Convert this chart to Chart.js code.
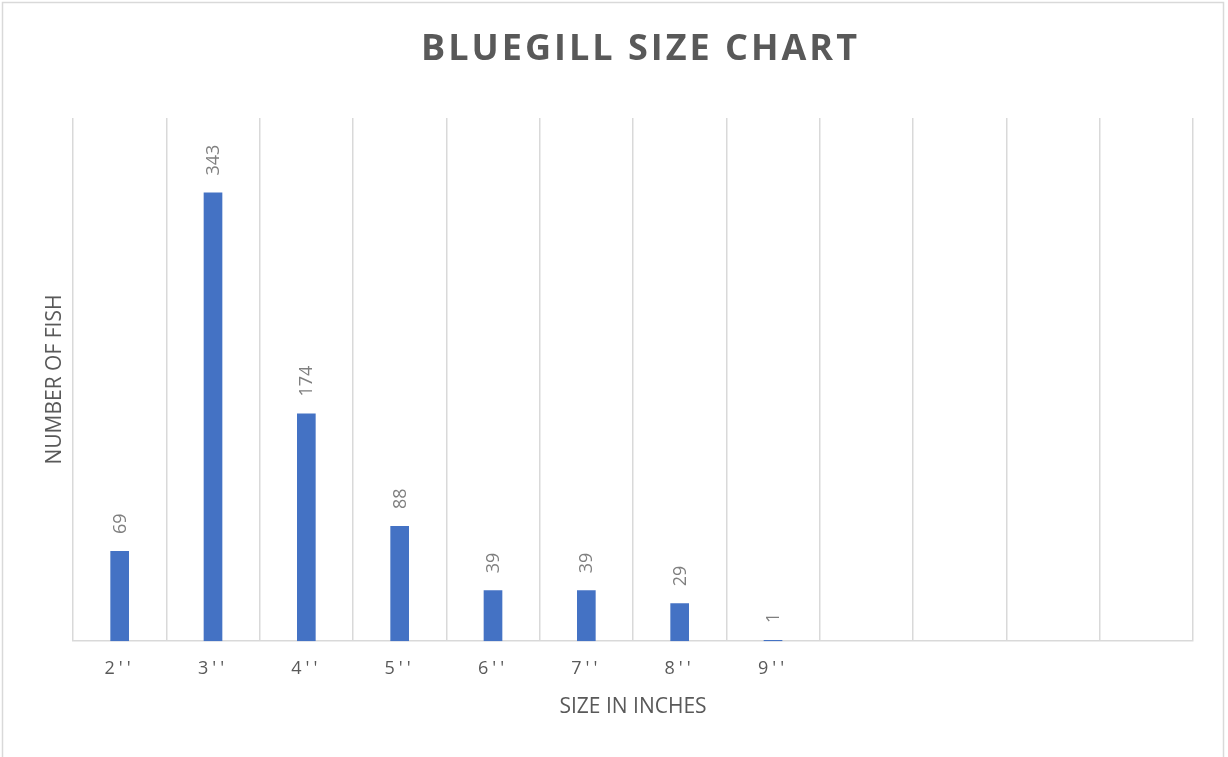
<!DOCTYPE html>
<html>
<head>
<meta charset="utf-8">
<script src="https://cdn.jsdelivr.net/npm/chart.js@4/dist/chart.umd.min.js"></script>
<style>
  html, body { margin: 0; padding: 0; background: #ffffff; }
  #wrap { position: relative; width: 1228px; height: 757px; }
</style>
</head>
<body>
<div id="wrap"><canvas id="chart"></canvas></div>
<script>
// Bluegill catch counts by length class
const sizes = ["2''", "3''", "4''", "5''", "6''", "7''", "8''", "9''", "", "", "", ""];
const fishCounts = [69, 343, 174, 88, 39, 39, 29, 1, null, null, null, null];
const chartTitle = "BLUEGILL SIZE CHART";
const xTitle = "SIZE IN INCHES";
const yTitle = "NUMBER OF FISH";

const FONT = "'Open Sans', 'Liberation Sans', sans-serif";

// Outer frame, spaced-out heading, spaced tick labels and rotated value labels
const decorations = {
  id: 'decorations',
  beforeDraw(chart) {
    const ctx = chart.ctx;
    ctx.save();
    ctx.strokeStyle = '#d9d9d9';
    ctx.lineWidth = 1.5;
    ctx.strokeRect(2.5, 2.5, 1221, 800);
    ctx.restore();
    ctx.letterSpacing = '0px';
  },
  afterDatasetsDraw(chart) {
    // category labels (drawn in a later layer) get wider character spacing
    chart.ctx.letterSpacing = '4px';
  },
  afterDraw(chart) {
    const ctx = chart.ctx;
    ctx.letterSpacing = '0px';
    // heading
    ctx.save();
    ctx.font = `bold 36px ${FONT}`;
    ctx.fillStyle = '#595959';
    ctx.letterSpacing = '3px';
    ctx.textBaseline = 'alphabetic';
    ctx.textAlign = 'left';
    const w = ctx.measureText(chartTitle).width - 3;
    ctx.fillText(chartTitle, 639 - w / 2, 60);
    ctx.restore();
    ctx.letterSpacing = '0px';

    // value labels above each bar, reading upward
    const meta = chart.getDatasetMeta(0);
    ctx.save();
    ctx.font = `18px ${FONT}`;
    ctx.fillStyle = '#7f7f7f';
    ctx.textAlign = 'left';
    ctx.textBaseline = 'middle';
    meta.data.forEach((bar, i) => {
      const v = fishCounts[i];
      if (v === null || v === undefined) return;
      ctx.save();
      ctx.translate(bar.x + 1, bar.y - 17);
      ctx.rotate(-Math.PI / 2);
      ctx.fillText(String(v), 0, 0);
      ctx.restore();
    });
    ctx.restore();
  }
};

new Chart(document.getElementById('chart'), {
  type: 'bar',
  data: {
    labels: sizes,
    datasets: [{
      data: fishCounts,
      backgroundColor: '#4472c4',
      borderWidth: 0,
      categoryPercentage: 1.0,
      barPercentage: 0.2
    }]
  },
  options: {
    responsive: true,
    maintainAspectRatio: false,
    animation: false,
    layout: { padding: { top: 118, left: 38, right: 35, bottom: 37 } },
    plugins: {
      legend: { display: false },
      title: { display: false },
      tooltip: { enabled: false }
    },
    scales: {
      x: {
        offset: true,
        grid: {
          offset: true,
          color: '#d9d9d9',
          lineWidth: 1.5,
          drawTicks: false
        },
        border: { display: true, color: '#d9d9d9', width: 1.5 },
        ticks: {
          z: 1,
          color: '#595959',
          font: { family: FONT, size: 18 },
          padding: 17,
          maxRotation: 0,
          autoSkip: false
        },
        title: {
          display: true,
          text: xTitle,
          color: '#595959',
          font: { family: FONT, size: 21 },
          padding: { top: -2, bottom: 0 }
        }
      },
      y: {
        min: 0,
        max: 400,
        grid: { display: false, drawTicks: false },
        border: { display: false },
        ticks: { display: false },
        title: {
          display: true,
          text: yTitle,
          color: '#595959',
          font: { family: FONT, size: 21 },
          padding: { top: 4.4, bottom: 5.4 }
        }
      }
    }
  },
  plugins: [decorations]
});
</script>
</body>
</html>
